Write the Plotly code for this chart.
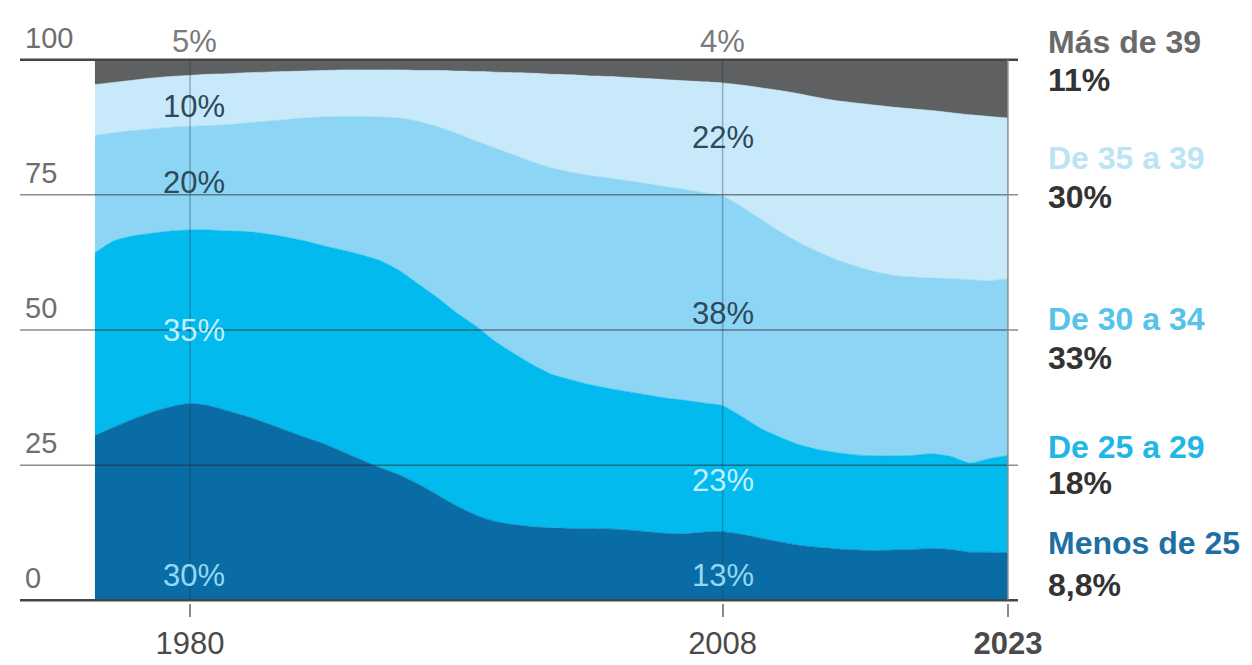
import plotly.graph_objects as go

years = list(range(1975, 2024))

menos_25 = [30.5, 32.0, 33.5, 34.8, 35.8, 36.4, 36.0, 35.0, 34.0, 32.8,
            31.5, 30.2, 29.0, 27.5, 26.0, 24.5, 23.2, 21.5, 19.5, 17.5,
            15.8, 14.6, 14.0, 13.6, 13.4, 13.3, 13.3, 13.2, 13.0, 12.7,
            12.4, 12.3, 12.6, 12.7, 12.2, 11.5, 10.8, 10.2, 9.8, 9.5,
            9.3, 9.2, 9.3, 9.4, 9.6, 9.4, 8.9, 8.9, 8.8]
de_25_29 = [33.8, 34.5, 33.9, 33.1, 32.5, 32.1, 32.5, 33.3, 34.2, 35.0,
            35.7, 36.3, 36.6, 37.3, 37.9, 38.3, 37.8, 37.0, 36.5, 35.7,
            35.0, 33.4, 31.7, 30.0, 28.4, 27.5, 26.6, 26.0, 25.6, 25.3,
            25.0, 24.7, 23.9, 23.3, 21.8, 20.3, 19.4, 18.6, 18.1, 17.8,
            17.6, 17.5, 17.4, 17.4, 17.5, 17.2, 16.5, 17.3, 18.0]
de_30_34 = [21.7, 20.0, 19.5, 19.3, 19.2, 19.2, 19.3, 19.7, 20.1, 20.8,
            21.7, 22.7, 23.8, 24.7, 25.6, 26.6, 28.2, 30.1, 31.6, 33.2,
            34.2, 35.7, 36.7, 37.5, 38.2, 38.4, 38.7, 38.9, 39.0, 39.1,
            39.1, 39.0, 38.9, 38.8, 38.8, 38.7, 38.0, 37.4, 36.6, 35.7,
            34.9, 34.1, 33.4, 33.0, 32.5, 32.9, 33.9, 32.9, 32.7]
de_35_39 = [9.4, 9.3, 9.3, 9.4, 9.4, 9.4, 9.5, 9.4, 9.3, 9.1,
            8.9, 8.7, 8.6, 8.6, 8.6, 8.7, 8.9, 9.4, 10.4, 11.5,
            12.8, 14.0, 15.2, 16.4, 17.3, 18.0, 18.4, 18.8, 19.1, 19.4,
            19.8, 20.1, 20.5, 20.9, 22.5, 24.3, 26.1, 27.5, 28.5, 29.4,
            30.2, 30.8, 31.1, 31.1, 31.0, 30.7, 30.5, 30.4, 29.7]
mas_39 = [4.6, 4.2, 3.8, 3.4, 3.1, 2.9, 2.7, 2.6, 2.4, 2.3,
          2.2, 2.1, 2.0, 1.9, 1.9, 1.9, 1.9, 2.0, 2.0, 2.1,
          2.2, 2.3, 2.4, 2.5, 2.7, 2.8, 3.0, 3.1, 3.3, 3.5,
          3.7, 3.9, 4.1, 4.3, 4.7, 5.2, 5.7, 6.3, 7.0, 7.6,
          8.0, 8.4, 8.8, 9.1, 9.4, 9.8, 10.2, 10.5, 10.8]

series_names = ["Menos de 25", "De 25 a 29", "De 30 a 34", "De 35 a 39", "Más de 39"]
series_values = [menos_25, de_25_29, de_30_34, de_35_39, mas_39]
series_colors = ["#0a6ca4", "#03baee", "#8dd5f4", "#c8e9fa", "#5e6061"]
legend_colors = ["#1e6fa3", "#22b6e6", "#55c3ea", "#bde4f4", "#6a6a6a"]
final_labels = ["8,8%", "18%", "33%", "30%", "11%"]

y_ticks = [0, 25, 50, 75, 100]
x_ticks = [1980, 2008, 2023]
x_tick_text = ["1980", "2008", "<b>2023</b>"]

labels_1980 = ["30%", "35%", "20%", "10%", "5%"]
labels_2008 = ["13%", "23%", "38%", "22%", "4%"]

FONT = "Liberation Sans"
Y_MIN, Y_MAX = -0.5, 100.5


def to_paper(v):
    return (v - Y_MIN) / (Y_MAX - Y_MIN)


fig = go.Figure()
for name, vals, col in zip(series_names, series_values, series_colors):
    fig.add_trace(go.Scatter(
        x=years, y=vals, name=name, stackgroup="one", mode="lines",
        line=dict(width=0.6, color=col, shape="spline", smoothing=0.6),
        fillcolor=col, hoverinfo="skip", showlegend=False))

# horizontal grid lines drawn above the areas, with labels above them
for v in y_ticks:
    strong = v in (0, 100)
    fig.add_shape(type="line", xref="paper", yref="y", x0=0, x1=1, y0=v, y1=v,
                  line=dict(color="#454545" if strong else "rgba(45,45,45,0.55)",
                            width=2.5 if strong else 1.5),
                  layer="above")
    fig.add_annotation(xref="paper", yref="paper", x=0, y=to_paper(v), text=str(v),
                       xanchor="left", yanchor="middle", showarrow=False,
                       xshift=3, yshift=22,
                       font=dict(family=FONT, size=29, color="#6e6e6e"))

# vertical reference lines
for xv in x_ticks:
    last = xv == x_ticks[-1]
    fig.add_shape(type="line", xref="x", yref="y", x0=xv, x1=xv, y0=0, y1=100,
                  line=dict(color="#8a8a8a" if last else "rgba(30,60,80,0.35)",
                            width=1.5),
                  layer="above")

# in-chart labels
y_pos_1980 = [4.6, 50.0, 77.2, 91.3, 103.3]
y_pos_2008 = [4.6, 22.2, 53.1, 85.7, 103.3]
lab_colors = ["#93d8f4", "#c2f0ff", "#2c4a5a", "#2c4a5a", "#7a7a7a"]
for xv, labs, ys in ((1980, labels_1980, y_pos_1980), (2008, labels_2008, y_pos_2008)):
    for lab, yv, c in zip(labs, ys, lab_colors):
        fig.add_annotation(x=xv, y=to_paper(yv), xref="x", yref="paper", text=lab,
                           showarrow=False, xanchor="center", yanchor="middle",
                           xshift=4 if xv == 1980 else 0,
                           font=dict(family=FONT, size=31, color=c))

# right-hand legend labels
name_y = [10.6, 28.3, 52.0, 81.9, 103.3]
value_y = [2.8, 21.7, 44.8, 74.6, 96.3]
for name, col, lab, ny, vy in zip(series_names, legend_colors, final_labels, name_y, value_y):
    fig.add_annotation(xref="paper", yref="paper", x=1, y=to_paper(ny), xshift=28,
                       text=f"<b>{name}</b>", xanchor="left", yanchor="middle",
                       showarrow=False, font=dict(family=FONT, size=32, color=col))
    fig.add_annotation(xref="paper", yref="paper", x=1, y=to_paper(vy), xshift=28,
                       text=f"<b>{lab}</b>", xanchor="left", yanchor="middle",
                       showarrow=False, font=dict(family=FONT, size=32, color="#333333"))

fig.update_layout(
    width=1252, height=665, autosize=False,
    margin=dict(l=12, r=242, t=49, b=70),
    paper_bgcolor="white", plot_bgcolor="white",
    showlegend=False,
    xaxis=dict(range=[1971.06, 2023.53], showgrid=False, zeroline=False, showline=False,
               tickvals=x_ticks, ticktext=x_tick_text, ticks="outside", ticklen=13,
               tickwidth=1.5, tickcolor="#8a8a8a",
               tickfont=dict(family=FONT, size=31, color="#4a4a4a")),
    yaxis=dict(range=[Y_MIN, Y_MAX], showgrid=False, zeroline=False, showline=False,
               showticklabels=False),
)

fig.write_html("out.html")
